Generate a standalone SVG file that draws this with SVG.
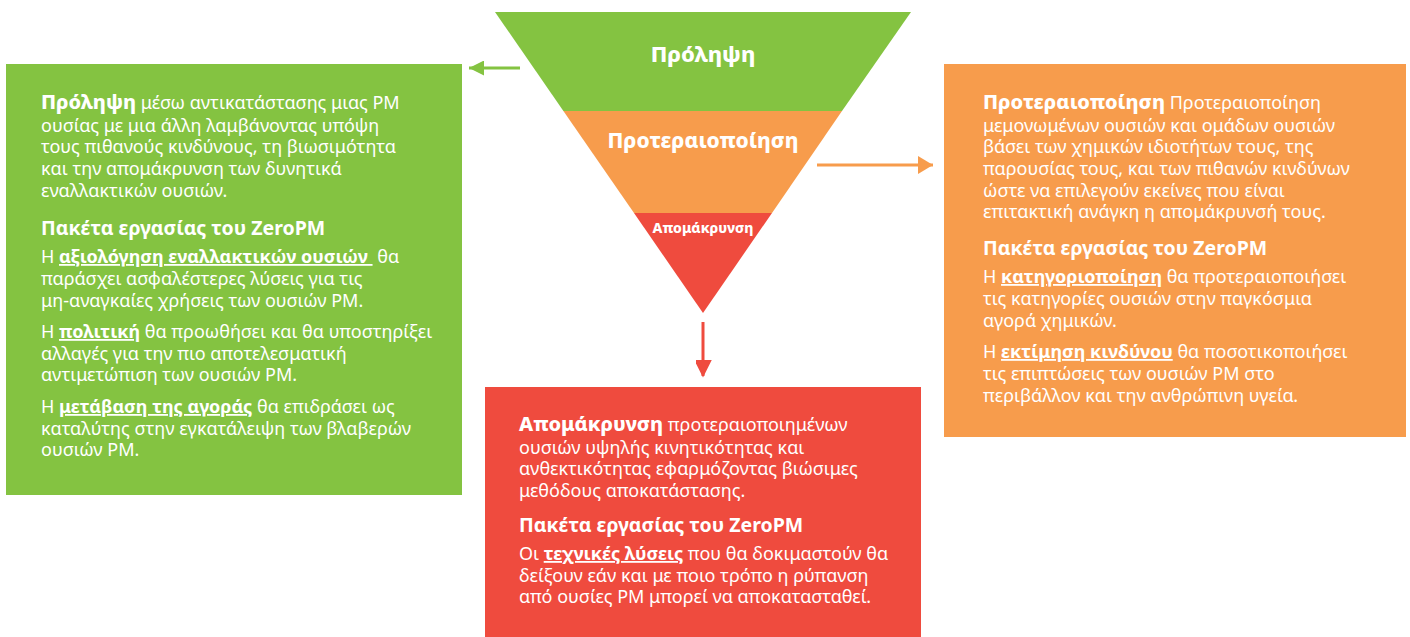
<svg xmlns="http://www.w3.org/2000/svg" width="1410" height="637" viewBox="0 0 1410 637">
<style>
.t{font-family:"Noto Sans","Open Sans","DejaVu Sans",sans-serif;font-size:18px;fill:#fff;}
.b{font-weight:800;font-size:20px;}
.h{font-weight:bold;font-size:19.5px;}
.u{font-weight:bold;text-decoration:underline;}
.lbl{font-family:"Noto Sans","Open Sans","DejaVu Sans",sans-serif;font-weight:800;fill:#fff;text-anchor:middle;}
</style>
<defs>
<marker id="ag" markerWidth="5" markerHeight="5" refX="5" refY="2.5" orient="auto" markerUnits="strokeWidth"><path d="M0,0 L5,2.5 L0,5 Z" fill="#84C341"/></marker>
<marker id="ao" markerWidth="5" markerHeight="6" refX="5" refY="3" orient="auto" markerUnits="strokeWidth"><path d="M0,0 L5,3 L0,6 Z" fill="#F79C4C"/></marker>
<marker id="ar" markerWidth="6" markerHeight="5.5" refX="5.5" refY="3" orient="auto" markerUnits="strokeWidth"><path d="M0,0 L6,3 L0,6 Z" fill="#EF4B3E"/></marker>
</defs>

<g id="funnel">
<polygon points="495,12 911,12 842,111 563.4,111" fill="#84C341"/>
<polygon points="563.4,111 842,111 772,213 634,213" fill="#F79C4C"/>
<polygon points="634,213 772,213 703,313" fill="#EF4B3E"/>
<text class="lbl" x="703" y="62" font-size="22">Πρόληψη</text>
<text class="lbl" x="703" y="148" font-size="21">Προτεραιοποίηση</text>
<text class="lbl" x="703" y="233" font-size="14">Απομάκρυνση</text>
</g>

<g id="connectors">
<line x1="520" y1="68" x2="469" y2="68" stroke="#84C341" stroke-width="3" marker-end="url(#ag)"/>
<line x1="817" y1="165" x2="933" y2="165" stroke="#F79C4C" stroke-width="3" marker-end="url(#ao)"/>
<line x1="703" y1="322" x2="703" y2="376" stroke="#EF4B3E" stroke-width="3" marker-end="url(#ar)"/>
</g>

<g id="prevention">
<rect x="6" y="64" width="456" height="431" fill="#84C341"/>
<text class="t" x="41" y="109"><tspan class="b">Πρόληψη</tspan> μέσω αντικατάστασης μιας PM</text>
<text class="t" x="41" y="131.7">ουσίας με μια άλλη λαμβάνοντας υπόψη</text>
<text class="t" x="41" y="153.3">τους πιθανούς κινδύνους, τη βιωσιμότητα</text>
<text class="t" x="41" y="175">και την απομάκρυνση των δυνητικά</text>
<text class="t" x="41" y="196.7">εναλλακτικών ουσιών.</text>
<text class="t h" x="41" y="235">Πακέτα εργασίας του ZeroPM</text>
<text class="t" x="41" y="263">Η <tspan class="u">αξιολόγηση εναλλακτικών ουσιών&#160;</tspan> θα</text>
<text class="t" x="41" y="285">παράσχει ασφαλέστερες λύσεις για τις</text>
<text class="t" x="41" y="307">μη-αναγκαίες χρήσεις των ουσιών PM.</text>
<text class="t" x="41" y="338">Η <tspan class="u">πολιτική</tspan> θα προωθήσει και θα υποστηρίξει</text>
<text class="t" x="41" y="359.7">αλλαγές για την πιο αποτελεσματική</text>
<text class="t" x="41" y="381.3">αντιμετώπιση των ουσιών PM.</text>
<text class="t" x="41" y="413">Η <tspan class="u">μετάβαση της αγοράς</tspan> θα επιδράσει ως</text>
<text class="t" x="41" y="434.7">καταλύτης στην εγκατάλειψη των βλαβερών</text>
<text class="t" x="41" y="456.3">ουσιών PM.</text>
</g>

<g id="prioritisation">
<rect x="944" y="64" width="462" height="373" fill="#F79C4C"/>
<text class="t" x="983" y="109"><tspan class="b">Προτεραιοποίηση</tspan> Προτεραιοποίηση</text>
<text class="t" x="983" y="131.7">μεμονωμένων ουσιών και ομάδων ουσιών</text>
<text class="t" x="983" y="153.3">βάσει των χημικών ιδιοτήτων τους, της</text>
<text class="t" x="983" y="175">παρουσίας τους, και των  πιθανών κινδύνων</text>
<text class="t" x="983" y="196.7">ώστε να επιλεγούν εκείνες που είναι</text>
<text class="t" x="983" y="218.3">επιτακτική ανάγκη η απομάκρυνσή τους.</text>
<text class="t h" x="983" y="255">Πακέτα εργασίας του ZeroPM</text>
<text class="t" x="983" y="283">Η <tspan class="u">κατηγοριοποίηση</tspan> θα προτεραιοποιήσει</text>
<text class="t" x="983" y="305">τις κατηγορίες ουσιών στην παγκόσμια</text>
<text class="t" x="983" y="327">αγορά χημικών.</text>
<text class="t" x="983" y="358">Η <tspan class="u">εκτίμηση κινδύνου</tspan> θα ποσοτικοποιήσει</text>
<text class="t" x="983" y="380">τις επιπτώσεις των ουσιών PM στο</text>
<text class="t" x="983" y="402">περιβάλλον και την ανθρώπινη υγεία.</text>
</g>

<g id="removal">
<rect x="485" y="387" width="436" height="250" fill="#EF4B3E"/>
<text class="t" x="519" y="431"><tspan class="b">Απομάκρυνση</tspan> προτεραιοποιημένων</text>
<text class="t" x="519" y="453.7">ουσιών υψηλής κινητικότητας και</text>
<text class="t" x="519" y="475.3">ανθεκτικότητας εφαρμόζοντας βιώσιμες</text>
<text class="t" x="519" y="497">μεθόδους αποκατάστασης.</text>
<text class="t h" x="519" y="532">Πακέτα εργασίας του ZeroPM</text>
<text class="t" x="519" y="560">Οι <tspan class="u">τεχνικές λύσεις</tspan> που θα δοκιμαστούν θα</text>
<text class="t" x="519" y="581.7">δείξουν εάν και με ποιο τρόπο η ρύπανση</text>
<text class="t" x="519" y="603.3">από ουσίες PM μπορεί να αποκατασταθεί.</text>
</g>
</svg>
